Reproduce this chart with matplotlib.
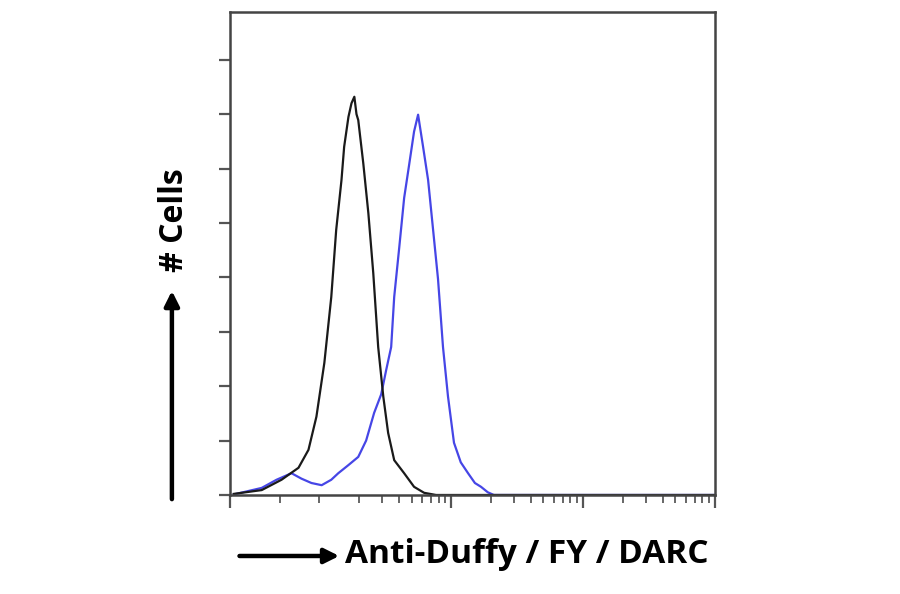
import matplotlib
matplotlib.use('Agg')
import matplotlib.pyplot as plt
from matplotlib.ticker import FixedLocator, NullFormatter

# isotype control (black) - fluorescence intensity vs. cell count
control_x = [2.24, 3.65, 5.16, 6.94, 8.26, 9.49, 10.9, 12.3, 13.4, 14.7, 15.4, 16.6,
             17.5, 18.4, 19.1, 19.7, 21.5, 23.5, 25.6, 27.9, 30.5, 33.2, 36.9, 43.9,
             52.2, 62.2, 76.6, 200, 10000]
control_y = [0.02, 0.09, 0.28, 0.50, 0.83, 1.44, 2.43, 3.64, 4.87, 5.79, 6.40, 6.95,
             7.20, 7.32, 7.00, 6.89, 6.10, 5.18, 4.08, 2.72, 1.81, 1.14, 0.64, 0.40,
             0.15, 0.04, 0.0, 0.0, 0.0]

# anti-Duffy stained (blue)
stained_x = [2.24, 3.65, 4.73, 6.14, 7.31, 8.70, 10.4, 12.3, 13.9, 16.6, 19.7, 22.6,
             26.0, 29.4, 32.1, 35.0, 36.9, 40.3, 43.9, 47.9, 52.2, 56.0, 61.1, 66.7,
             72.8, 79.3, 86.5, 94.4, 104.8, 118, 134, 151, 168, 189, 210, 10000]
stained_y = [0.01, 0.13, 0.28, 0.40, 0.30, 0.22, 0.18, 0.28, 0.40, 0.55, 0.70, 1.00,
             1.51, 1.85, 2.30, 2.72, 3.64, 4.55, 5.46, 6.07, 6.68, 6.99, 6.40, 5.79,
             4.87, 3.97, 2.72, 1.81, 0.96, 0.60, 0.40, 0.22, 0.15, 0.05, 0.0, 0.0]

x_major = [2.1, 100, 1000, 10000]
x_minor = [5, 10, 20, 30, 40, 50, 60, 70, 80, 90,
           200, 300, 400, 500, 600, 700, 800, 900,
           2000, 3000, 4000, 5000, 6000, 7000, 8000, 9000]
y_ticks = [0, 1, 2, 3, 4, 5, 6, 7, 8]

fig = plt.figure(figsize=(9, 5.94), dpi=100)
ax = fig.add_axes([0.2556, 0.1667, 0.5389, 0.8133])

ax.plot(stained_x, stained_y, color='#4646e6', lw=1.6)
ax.plot(control_x, control_y, color='#1a1a1a', lw=1.6)

ax.set_xscale('log')
ax.set_xlim(2.1, 10000)
ax.set_ylim(0, 8.88)

ax.xaxis.set_major_locator(FixedLocator(x_major))
ax.xaxis.set_minor_locator(FixedLocator(x_minor))
ax.xaxis.set_major_formatter(NullFormatter())
ax.xaxis.set_minor_formatter(NullFormatter())
ax.set_yticks(y_ticks)
ax.set_yticklabels([])

for s in ax.spines.values():
    s.set_color('#444444')
    s.set_linewidth(1.8)
ax.tick_params(axis='x', which='major', length=9, width=1.6, color='#555555')
ax.tick_params(axis='x', which='minor', length=6, width=1.4, color='#666666')
ax.tick_params(axis='y', which='major', length=8, width=1.6, color='#555555')

# axis labels with arrows
ax.annotate('', xy=(0.191, 0.515), xycoords='figure fraction',
            xytext=(0.191, 0.155), textcoords='figure fraction',
            arrowprops=dict(arrowstyle='-|>', color='black', lw=3.2, mutation_scale=22))
fig.text(0.194, 0.63, '# Cells', rotation=90, ha='center', va='center',
         fontsize=23, fontweight='bold', family=['Open Sans', 'DejaVu Sans'])

ax.annotate('', xy=(0.380, 0.064), xycoords='figure fraction',
            xytext=(0.263, 0.064), textcoords='figure fraction',
            arrowprops=dict(arrowstyle='-|>', color='black', lw=3.2, mutation_scale=22))
fig.text(0.383, 0.066, 'Anti-Duffy / FY / DARC', ha='left', va='center',
         fontsize=24, fontweight='bold', family=['Open Sans', 'DejaVu Sans'])

fig.savefig('out.png', dpi=100)
